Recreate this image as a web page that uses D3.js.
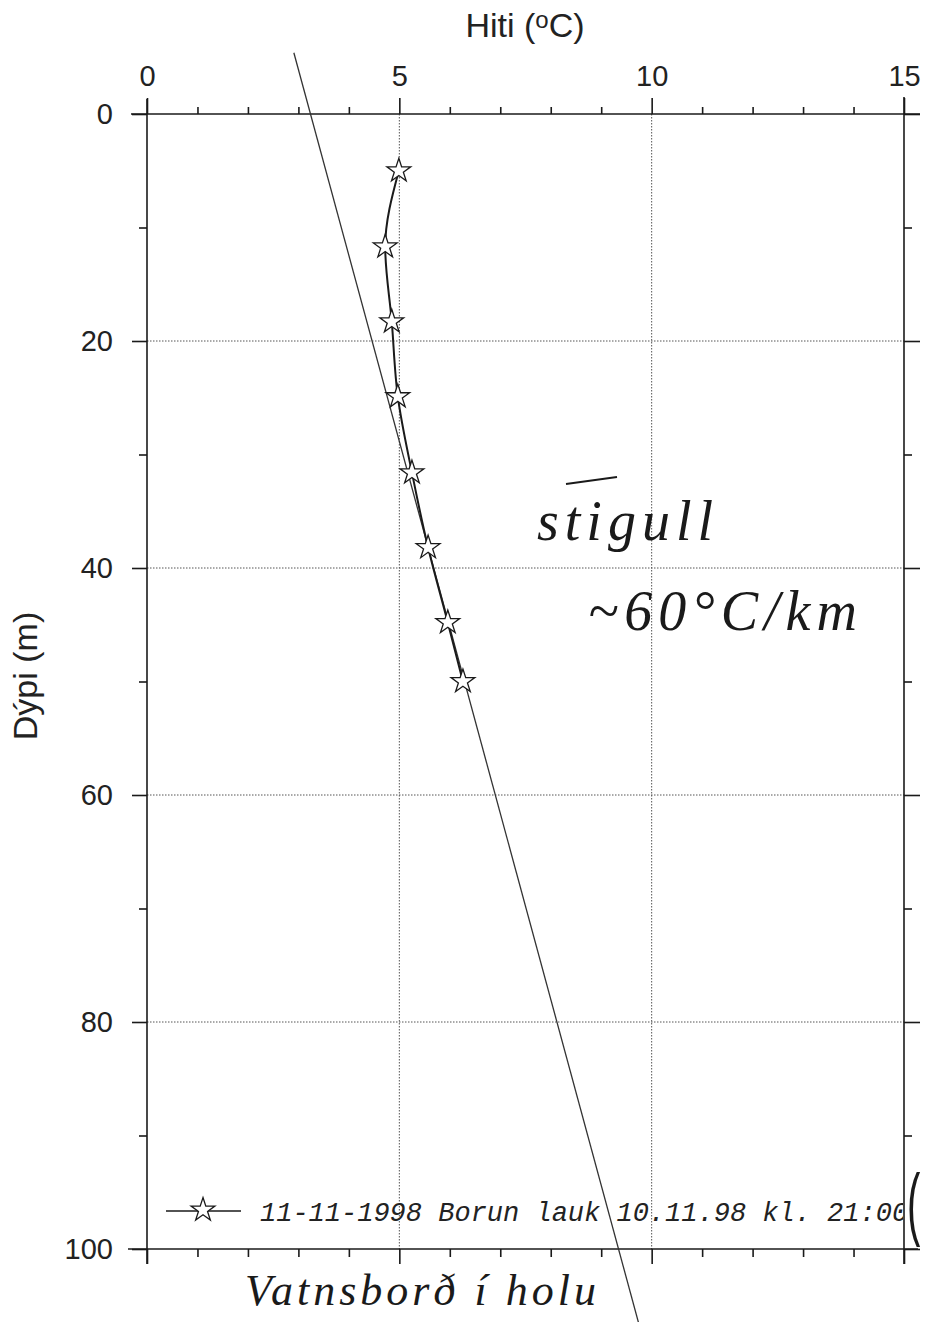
<!DOCTYPE html>
<html><head><meta charset="utf-8">
<script src="https://cdn.jsdelivr.net/npm/d3@7"></script>
<style>html,body{margin:0;padding:0;background:#fff}</style>
</head><body>
<svg id="c" width="928" height="1322"></svg>
<script>
// ---- data ----
const depth = [5, 11.7, 18.3, 24.9, 31.6, 38.2, 44.8, 50];          // Dýpi (m)
const temp  = [4.99, 4.72, 4.85, 4.97, 5.25, 5.57, 5.96, 6.26];     // Hiti (°C)
const fitDepth = [-5.4, 106.5];   // hand-drawn gradient line end points
const fitTemp  = [2.91, 9.74];
const xMajor = [0, 5, 10, 15];
const xMinor = [1, 2, 3, 4, 6, 7, 8, 9, 11, 12, 13, 14];
const yMajor = [0, 20, 40, 60, 80, 100];
const yMinor = [10, 30, 50, 70, 90];
const xGrid = [5, 10];
const yGrid = [20, 40, 60, 80];
const legendLabel = "11-11-1998 Borun lauk 10.11.98 kl. 21:00";
const titleX = "Hiti (", titleSup = "o", titleEnd = "C)";
const titleY = "Dýpi (m)";
const note1 = "stigull", note2 = "~60°C/km", note3 = "Vatnsborð í holu";

// ---- layout ----
const L = 147, R = 904, T = 114, B = 1249;
const svg = d3.select("#c");
const x = d3.scaleLinear().domain([0, 15]).range([L, R]);
const y = d3.scaleLinear().domain([0, 100]).range([T, B]);
const ink = "#1a1a1a";
const sans = "'Liberation Sans', Arial, sans-serif";

// grid
svg.append("g").selectAll("line").data(xGrid).join("line")
  .attr("x1", d => x(d)).attr("x2", d => x(d)).attr("y1", T).attr("y2", B)
  .attr("stroke", "#555").attr("stroke-width", 1).attr("stroke-dasharray", "1.5 1.5");
svg.append("g").selectAll("line").data(yGrid).join("line")
  .attr("y1", d => y(d)).attr("y2", d => y(d)).attr("x1", L).attr("x2", R)
  .attr("stroke", "#555").attr("stroke-width", 1).attr("stroke-dasharray", "1.5 1.5");

// axes via d3
function styleAxis(g) {
  g.select(".domain").remove();
  g.selectAll(".tick line").attr("stroke", ink).attr("stroke-width", 1.6);
  g.selectAll(".tick text").attr("fill", "#222").attr("font-family", sans).attr("font-size", 29);
}
svg.append("g").attr("transform", `translate(0,${T})`)
  .call(d3.axisTop(x).tickValues(xMajor).tickSize(16).tickPadding(12).tickFormat(d3.format("d"))).call(styleAxis);
svg.append("g").attr("transform", `translate(0,${T})`)
  .call(d3.axisTop(x).tickValues(xMinor).tickSize(7).tickFormat("")).call(styleAxis);
svg.append("g").attr("transform", `translate(0,${B})`)
  .call(d3.axisBottom(x).tickValues(xMajor).tickSize(15).tickFormat("")).call(styleAxis);
svg.append("g").attr("transform", `translate(0,${B})`)
  .call(d3.axisBottom(x).tickValues(xMinor).tickSize(8).tickFormat("")).call(styleAxis);
svg.append("g").attr("transform", `translate(${L},0)`)
  .call(d3.axisLeft(y).tickValues(yMajor).tickSize(15).tickPadding(19).tickFormat(d3.format("d"))).call(styleAxis);
svg.append("g").attr("transform", `translate(${L},0)`)
  .call(d3.axisLeft(y).tickValues(yMinor).tickSize(8).tickFormat("")).call(styleAxis);
svg.append("g").attr("transform", `translate(${R},0)`)
  .call(d3.axisRight(y).tickValues(yMajor).tickSize(16).tickFormat("")).call(styleAxis);
svg.append("g").attr("transform", `translate(${R},0)`)
  .call(d3.axisRight(y).tickValues(yMinor).tickSize(8).tickFormat("")).call(styleAxis);

// frame lines (extended like the original)
const frame = svg.append("g").attr("stroke", ink).attr("stroke-width", 1.6);
frame.append("line").attr("x1", 131).attr("x2", 920).attr("y1", T).attr("y2", T);
frame.append("line").attr("x1", 128).attr("x2", 918).attr("y1", B).attr("y2", B);
frame.append("line").attr("x1", L).attr("x2", L).attr("y1", 99).attr("y2", 1264);
frame.append("line").attr("x1", R).attr("x2", R).attr("y1", 97).attr("y2", 1264);

// axis titles
const tx = svg.append("text").attr("x", 525).attr("y", 37).attr("text-anchor", "middle")
  .attr("font-family", sans).attr("font-size", 34).attr("fill", "#222");
tx.append("tspan").text(titleX);
tx.append("tspan").attr("font-size", 24).attr("dy", -9).text(titleSup);
tx.append("tspan").attr("dy", 9).text(titleEnd);
svg.append("text").attr("transform", "translate(37,676) rotate(-90)").attr("text-anchor", "middle")
  .attr("font-family", sans).attr("font-size", 34).attr("fill", "#222").text(titleY);

// fitted gradient line
const fit = fitDepth.map((d, i) => ({d, t: fitTemp[i]}));
svg.append("path").datum(fit)
  .attr("d", d3.line().x(p => x(p.t)).y(p => y(p.d)))
  .attr("stroke", "#333").attr("stroke-width", 1.3).attr("fill", "none");

// data line + stars
const pts = depth.map((d, i) => ({d, t: temp[i]}));
svg.append("path").datum(pts)
  .attr("d", d3.line().x(p => x(p.t)).y(p => y(p.d)).curve(d3.curveMonotoneY))
  .attr("stroke", ink).attr("stroke-width", 2).attr("fill", "none");
const star = d3.symbol().type(d3.symbolStar).size(175);
svg.append("g").selectAll("path").data(pts).join("path")
  .attr("transform", p => `translate(${x(p.t)},${y(p.d)})`)
  .attr("d", star).attr("fill", "#fff").attr("stroke", ink).attr("stroke-width", 1.3);

// legend
svg.append("defs").append("clipPath").attr("id", "plotclip")
  .append("rect").attr("x", L).attr("y", T).attr("width", R - L - 1).attr("height", B - T);
svg.append("line").attr("x1", 166).attr("x2", 241).attr("y1", 1211).attr("y2", 1211)
  .attr("stroke", ink).attr("stroke-width", 1.3);
svg.append("path").attr("transform", "translate(203,1210)").attr("d", star)
  .attr("fill", "#fff").attr("stroke", ink).attr("stroke-width", 1.3);
svg.append("text").attr("clip-path", "url(#plotclip)").attr("x", 260).attr("y", 1221)
  .attr("font-family", "'Liberation Mono', 'Courier New', monospace").attr("font-style", "italic")
  .attr("font-size", 27).attr("fill", "#222").text(legendLabel);

// handwritten notes
const hand = "'Liberation Serif', 'DejaVu Serif', serif";
svg.append("line").attr("x1", 566).attr("x2", 617).attr("y1", 484).attr("y2", 477)
  .attr("stroke", ink).attr("stroke-width", 1.8);
svg.append("text").attr("x", 537).attr("y", 540).attr("font-family", hand).attr("font-style", "italic")
  .attr("font-size", 56).attr("letter-spacing", 6).attr("fill", ink).text(note1);
svg.append("text").attr("x", 588).attr("y", 630).attr("font-family", hand).attr("font-style", "italic")
  .attr("font-size", 56).attr("letter-spacing", 6).attr("fill", ink).text(note2);
svg.append("text").attr("x", 245).attr("y", 1305).attr("font-family", hand).attr("font-style", "italic")
  .attr("font-size", 44).attr("letter-spacing", 4).attr("fill", ink).text(note3);
svg.append("text").attr("transform", "translate(907,1230) scale(0.5,1)").attr("font-family", sans)
  .attr("font-size", 80).attr("fill", ink).text("(");
</script>
</body></html>
